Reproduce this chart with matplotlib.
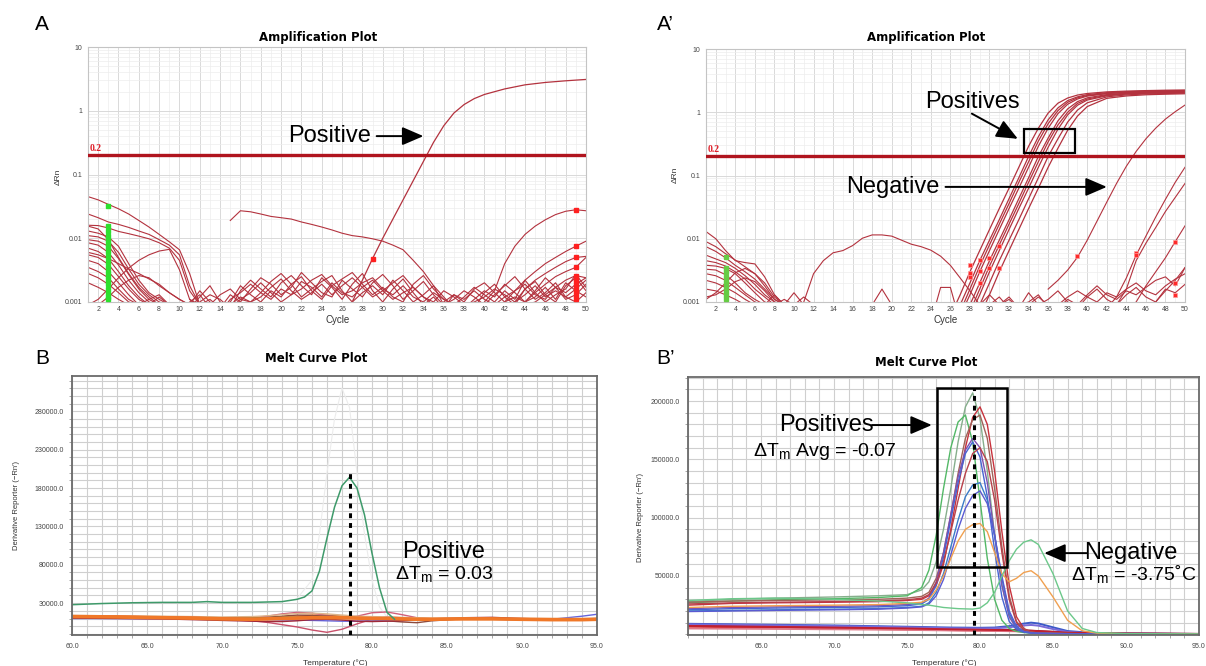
import numpy as np
import matplotlib
matplotlib.use("Agg")
import matplotlib.pyplot as plt
from matplotlib.patches import Rectangle
from matplotlib.ticker import MultipleLocator, FormatStrFormatter, NullFormatter, LogLocator

plt.rcParams['font.family'] = ['Liberation Sans', 'DejaVu Sans']
plt.rcParams['mathtext.fontset'] = 'custom'
plt.rcParams['mathtext.rm'] = 'Liberation Sans'
plt.rcParams['mathtext.it'] = 'Liberation Sans:italic'

# ---------------- panel A: amplification, single positive ----------------
A_THRESHOLD = 0.2
A_EARLY_CYC = list(range(1, 13))
A_EARLY = [
    [0.045, 0.040, 0.034, 0.029, 0.024, 0.019, 0.015, 0.0115, 0.0088, 0.0066, 0.0028, 0.0009],
    [0.024, 0.021, 0.018, 0.0165, 0.0148, 0.013, 0.0115, 0.0095, 0.0078, 0.0055, 0.0018, 0.0009],
    [0.016, 0.0158, 0.0145, 0.0128, 0.0118, 0.0108, 0.0098, 0.0085, 0.007, 0.0045, 0.0015, 0.0009],
    [0.0155, 0.014, 0.0095, 0.005, 0.0028, 0.0017, 0.0012, 0.0009, 0.0009, 0.0009, 0.0009, 0.0009],
    [0.013, 0.012, 0.0105, 0.0075, 0.004, 0.0022, 0.0014, 0.0011, 0.0009, 0.0009, 0.0009, 0.0009],
    [0.011, 0.0105, 0.009, 0.006, 0.0033, 0.0019, 0.0013, 0.001, 0.0009, 0.0009, 0.0009, 0.0009],
    [0.0095, 0.009, 0.0075, 0.0048, 0.0027, 0.0016, 0.0011, 0.0013, 0.0009, 0.0009, 0.0009, 0.0009],
    [0.0085, 0.0078, 0.006, 0.0038, 0.0022, 0.0014, 0.001, 0.0009, 0.0009, 0.0009, 0.0009, 0.0009],
    [0.007, 0.0062, 0.0048, 0.003, 0.0018, 0.0012, 0.0009, 0.0012, 0.0009, 0.0009, 0.0009, 0.0009],
    [0.0055, 0.005, 0.0039, 0.0025, 0.0016, 0.0011, 0.0009, 0.0009, 0.0009, 0.0009, 0.0009, 0.0009],
    [0.0045, 0.004, 0.003, 0.002, 0.0013, 0.0009, 0.0011, 0.0009, 0.0009, 0.0009, 0.0009, 0.0009],
    [0.0035, 0.003, 0.0024, 0.0016, 0.0011, 0.0009, 0.0009, 0.0009, 0.0009, 0.0009, 0.0009, 0.0009],
    [0.0028, 0.0024, 0.0019, 0.0014, 0.001, 0.0009, 0.0009, 0.0009, 0.0009, 0.0009, 0.0009, 0.0009],
    [0.002, 0.0017, 0.0014, 0.0011, 0.0009, 0.0009, 0.0009, 0.0009, 0.0009, 0.0009, 0.0009, 0.0009],
    [0.0009, 0.0011, 0.0016, 0.0024, 0.0034, 0.0045, 0.0055, 0.0063, 0.0067, 0.0032, 0.0011, 0.0009],
    [0.0009, 0.0009, 0.0012, 0.0017, 0.0022, 0.0026, 0.0024, 0.0018, 0.0014, 0.0011, 0.0009, 0.0009],
    [0.006, 0.0055, 0.0048, 0.004, 0.0033, 0.0028, 0.0023, 0.0019, 0.0014, 0.0011, 0.0009, 0.0009],
]
A_NOISE_CYC = list(range(11, 51))
A_NOISE_MILLI = [  # values in units of 0.001 dRn
    [0.8, 1.2, 1.8, 1.0, 0.8, 1.5, 2.2, 1.6, 1.2, 2.0, 2.6, 1.8, 1.3, 2.4, 1.7, 1.1, 1.9, 2.8, 1.5, 1.0,
     1.6, 2.3, 1.4, 0.9, 1.2, 0.8, 1.3, 1.0, 0.8, 1.4, 1.9, 1.2, 0.9, 1.6, 2.1, 1.3, 1.0, 1.8, 2.4, 1.5],
    [0.7, 0.9, 1.1, 0.8, 1.3, 1.0, 1.6, 2.4, 1.9, 1.3, 1.7, 2.9, 2.0, 1.4, 1.2, 2.2, 1.6, 1.2, 2.0, 2.7,
     1.8, 1.1, 1.5, 2.1, 1.3, 0.9, 1.1, 1.5, 1.2, 0.9, 1.3, 1.8, 2.5, 1.6, 1.1, 1.4, 2.0, 1.2, 1.6, 2.2],
    [0.9, 1.5, 1.0, 0.7, 0.9, 1.2, 1.0, 1.4, 2.1, 2.8, 1.9, 1.2, 1.6, 2.1, 2.6, 1.5, 1.0, 1.4, 1.8, 1.3,
     2.2, 1.5, 1.0, 1.3, 1.8, 1.2, 0.8, 1.0, 1.6, 2.0, 1.4, 1.0, 1.2, 1.0, 1.5, 2.4, 1.7, 1.1, 1.3, 1.9],
    [1.1, 0.8, 0.7, 0.9, 1.0, 1.8, 1.3, 1.0, 1.5, 1.2, 1.9, 2.5, 1.5, 1.1, 1.8, 2.3, 2.9, 1.9, 1.3, 1.7,
     1.2, 1.0, 1.9, 2.6, 1.6, 1.1, 0.9, 1.2, 1.7, 1.3, 1.0, 1.5, 1.1, 2.2, 1.4, 1.0, 1.3, 1.6, 2.7, 1.7],
    [0.7, 1.0, 1.3, 1.1, 0.8, 1.1, 1.4, 2.0, 1.4, 1.0, 1.3, 1.6, 2.2, 2.7, 1.8, 1.3, 1.5, 2.0, 2.4, 1.6,
     1.3, 1.8, 1.2, 1.0, 1.4, 1.1, 0.9, 0.8, 1.1, 1.5, 1.2, 1.9, 1.4, 1.0, 1.2, 1.7, 1.1, 2.0, 1.5, 1.2],
    [0.8, 0.7, 0.9, 1.3, 1.6, 1.1, 1.0, 1.2, 1.7, 2.3, 1.5, 1.1, 1.4, 1.9, 1.3, 1.8, 2.4, 1.7, 1.2, 1.5,
     2.0, 2.6, 1.7, 1.2, 1.0, 1.5, 1.2, 0.9, 1.0, 1.2, 1.6, 1.3, 1.0, 1.3, 1.8, 1.2, 1.5, 1.2, 1.0, 1.4],
    [1.0, 1.3, 0.8, 0.7, 1.1, 1.4, 1.9, 1.4, 1.1, 1.6, 1.3, 2.1, 1.7, 1.2, 2.0, 1.4, 1.2, 1.7, 2.2, 1.5,
     1.1, 1.4, 1.7, 1.2, 0.9, 1.0, 1.3, 1.1, 1.5, 1.1, 0.9, 1.2, 1.5, 1.9, 1.3, 1.1, 1.7, 1.4, 1.9, 2.4],
]
A_LONG_CYC = list(range(15, 37))
A_LONG = [0.019, 0.027, 0.026, 0.024, 0.022, 0.021, 0.02, 0.018, 0.0165, 0.015, 0.0135, 0.012, 0.011,
          0.0105, 0.0098, 0.009, 0.0078, 0.0066, 0.0045, 0.003, 0.0018, 0.0009]
A_LATE_CYC = [40, 41, 42, 43, 44, 45, 46, 47, 48, 49, 50]
A_LATE = [
    [0.001, 0.0015, 0.004, 0.0075, 0.0115, 0.0155, 0.0195, 0.0235, 0.0265, 0.028, 0.027],
    [0.0009, 0.0009, 0.001, 0.0015, 0.0022, 0.003, 0.004, 0.005, 0.0062, 0.0075, 0.009],
    [0.0009, 0.0009, 0.0009, 0.001, 0.0016, 0.0022, 0.0028, 0.0035, 0.0043, 0.005, 0.0052],
    [0.0009, 0.0009, 0.0009, 0.0009, 0.001, 0.0014, 0.0019, 0.0025, 0.003, 0.0035, 0.005],
    [0.0009, 0.0009, 0.0009, 0.0009, 0.0009, 0.001, 0.0013, 0.0017, 0.0022, 0.0026, 0.0024],
]
A_POS_CYC = [27, 28, 29, 30, 31, 32, 33, 34, 35, 36, 37, 38, 39, 40, 42, 44, 46, 48, 50]
A_POS = [0.001, 0.0022, 0.0048, 0.01, 0.02, 0.04, 0.08, 0.16, 0.32, 0.58, 0.92, 1.25, 1.55, 1.8,
         2.2, 2.55, 2.78, 2.95, 3.1]
A_GREEN_Y = [0.0011, 0.0012, 0.0014, 0.0016, 0.0019, 0.0022, 0.0026, 0.003, 0.0036, 0.0043, 0.005,
             0.006, 0.007, 0.0082, 0.0095, 0.011, 0.013, 0.0155, 0.032]
A_RED_X = [49] * 11 + [29]
A_RED_Y = [0.0011, 0.0013, 0.0015, 0.0017, 0.002, 0.0023, 0.0026, 0.0035, 0.005, 0.0075, 0.028, 0.0048]

# ---------------- panel A': amplification, positives + negative ----------------
A2_EARLY_CYC = list(range(1, 10))
A2_EARLY = [
    [0.013, 0.010, 0.0065, 0.0045, 0.0042, 0.004, 0.0025, 0.0013, 0.0009],
    [0.009, 0.0075, 0.0058, 0.0046, 0.0036, 0.0028, 0.002, 0.0012, 0.0009],
    [0.0075, 0.0063, 0.005, 0.0038, 0.003, 0.0023, 0.0016, 0.0011, 0.0009],
    [0.0055, 0.0048, 0.0042, 0.0034, 0.0026, 0.0019, 0.0013, 0.001, 0.0009],
    [0.0045, 0.0042, 0.0037, 0.003, 0.0023, 0.0016, 0.0012, 0.0009, 0.0009],
    [0.0038, 0.0037, 0.0034, 0.0028, 0.002, 0.0014, 0.001, 0.0009, 0.0009],
    [0.0033, 0.0032, 0.0027, 0.002, 0.0014, 0.0011, 0.0009, 0.0009, 0.0009],
    [0.0028, 0.0026, 0.0022, 0.0017, 0.0013, 0.001, 0.0009, 0.0009, 0.0009],
    [0.0022, 0.002, 0.0017, 0.0014, 0.0011, 0.0009, 0.0009, 0.0009, 0.0009],
    [0.0016, 0.0015, 0.0013, 0.0011, 0.0009, 0.0009, 0.0009, 0.0009, 0.0009],
    [0.0011, 0.0014, 0.002, 0.0029, 0.0034, 0.0028, 0.0018, 0.0011, 0.0009],
    [0.0012, 0.0013, 0.0016, 0.0021, 0.0024, 0.0021, 0.0015, 0.001, 0.0009],
]
A2_HUMP_CYC = list(range(11, 30))
A2_HUMP = [0.001, 0.0028, 0.0045, 0.006, 0.0065, 0.0078, 0.0102, 0.0115, 0.0115, 0.011, 0.0095,
           0.0082, 0.0075, 0.0066, 0.0053, 0.0038, 0.0024, 0.0015, 0.0009]
A2_SPIKES = [
    ([7, 8, 9, 10, 11], [0.0009, 0.0013, 0.0009, 0.0014, 0.0009]),
    ([8, 9, 10, 11, 12], [0.0009, 0.0011, 0.0009, 0.0012, 0.0009]),
    ([18, 19, 20], [0.0009, 0.0016, 0.0009]),
    ([24.5, 25, 26, 26.5], [0.0009, 0.0017, 0.0017, 0.0009]),
]
A2_NOISE_CYC = list(range(28, 51))
A2_NOISE_MILLI = [  # values in units of 0.001 dRn
    [0.8, 0.9, 1.3, 0.9, 1.2, 0.8, 1.4, 0.9, 1.1, 1.5, 1.0, 0.8, 1.2, 1.6, 1.1, 0.9, 1.3, 1.7, 1.2, 1.0, 1.6, 1.4, 1.9],
    [0.8, 0.8, 0.9, 1.2, 0.8, 0.9, 1.0, 1.3, 0.8, 0.9, 1.2, 1.5, 1.2, 1.0, 1.4, 1.2, 1.6, 2.0, 1.5, 1.3, 1.8, 2.3, 2.8],
    [0.8, 0.8, 0.8, 0.9, 1.1, 0.8, 0.9, 1.2, 0.9, 0.8, 1.1, 0.9, 1.3, 1.8, 1.3, 1.1, 1.5, 1.3, 1.7, 2.2, 2.5, 1.8, 3.5],
]
A2_POS_CYC = [26, 27, 28, 29, 30, 31, 32, 33, 34, 35, 36, 37, 38, 39, 40, 42, 44, 46, 48, 50]
A2_POS = [
    [0.0006, 0.0013, 0.003, 0.0065, 0.014, 0.03, 0.063, 0.135, 0.29, 0.56, 0.97, 1.39, 1.68, 1.87, 1.98, 2.10, 2.16, 2.20, 2.23, 2.25],
    [0.0004, 0.0009, 0.002, 0.0045, 0.0095, 0.02, 0.043, 0.092, 0.2, 0.41, 0.76, 1.17, 1.53, 1.75, 1.9, 2.04, 2.11, 2.15, 2.18, 2.2],
    [0.0003, 0.0007, 0.0016, 0.0037, 0.008, 0.017, 0.036, 0.078, 0.165, 0.35, 0.66, 1.06, 1.44, 1.69, 1.84, 1.99, 2.07, 2.12, 2.15, 2.17],
    [0.0003, 0.0006, 0.0013, 0.003, 0.0065, 0.014, 0.03, 0.063, 0.135, 0.29, 0.56, 0.95, 1.34, 1.62, 1.8, 1.97, 2.05, 2.1, 2.13, 2.15],
    [0.0002, 0.0004, 0.0009, 0.002, 0.0045, 0.0095, 0.02, 0.043, 0.092, 0.2, 0.39, 0.73, 1.13, 1.47, 1.69, 1.9, 2.0, 2.05, 2.08, 2.1],
    [0.0001, 0.0003, 0.0007, 0.0016, 0.0037, 0.008, 0.017, 0.036, 0.078, 0.165, 0.34, 0.63, 1.0, 1.38, 1.62, 1.86, 1.97, 2.02, 2.05, 2.08],
    [0.0001, 0.0003, 0.0006, 0.0013, 0.003, 0.0065, 0.014, 0.03, 0.063, 0.135, 0.28, 0.54, 0.91, 1.29, 1.56, 1.82, 1.94, 2.0, 2.03, 2.06],
    [0.0001, 0.0002, 0.0004, 0.0009, 0.002, 0.0045, 0.0095, 0.02, 0.043, 0.092, 0.2, 0.38, 0.7, 1.08, 1.41, 1.75, 1.88, 1.95, 1.98, 2.01],
    [0.0001, 0.0001, 0.0003, 0.0006, 0.0013, 0.003, 0.0065, 0.014, 0.03, 0.063, 0.135, 0.27, 0.52, 0.87, 1.23, 1.66, 1.81, 1.89, 1.93, 1.96],
]
A2_NEG_CYC = list(range(36, 51))
A2_NEG = [0.0016, 0.0022, 0.0032, 0.0051, 0.0095, 0.019, 0.038, 0.075, 0.14, 0.24, 0.38, 0.56, 0.78, 1.02, 1.3]
A2_LATE_CYC = [42, 43, 44, 45, 46, 47, 48, 49, 50]
A2_LATE = [
    [0.0008, 0.0012, 0.0024, 0.0055, 0.011, 0.022, 0.042, 0.078, 0.135],
    [0.0008, 0.0009, 0.0016, 0.0045, 0.0085, 0.015, 0.027, 0.045, 0.075],
    [0.0008, 0.0008, 0.0008, 0.001, 0.0018, 0.003, 0.005, 0.009, 0.016],
    [0.0008, 0.0008, 0.0008, 0.0008, 0.0008, 0.001, 0.0015, 0.0022, 0.0035],
]
A2_GREEN_Y = [0.0011, 0.0013, 0.0015, 0.0018, 0.0021, 0.0025, 0.003, 0.0034, 0.0052]
A2_RED_X = [28, 28, 28, 29, 29, 29, 30, 30, 31, 31, 39, 45, 45, 49, 49, 49]
A2_RED_Y = [0.0038, 0.0029, 0.0025, 0.0046, 0.0031, 0.002, 0.005, 0.0034, 0.0078, 0.0035,
            0.0053, 0.006, 0.0055, 0.0089, 0.002, 0.0013]

# ---------------- panel B: melt curve, single positive ----------------
B_TM = 78.5
B_POS_T = [60, 62, 64, 66, 68, 69, 70, 72, 74, 75, 75.5, 76, 76.5, 77, 77.5, 78, 78.5, 79, 79.5, 80, 80.5, 81, 81.5]
B_POS = [28000, 29500, 30500, 31000, 31000, 32000, 31000, 31000, 32000, 35000, 38000, 46000, 72000,
         115000, 155000, 183000, 194000, 180000, 145000, 95000, 50000, 18000, 9000]
B_GHOST_T = [75, 76, 76.5, 77, 77.5, 78, 78.5, 79, 79.5, 80, 80.5, 81]
B_GHOST = [36000, 60000, 120000, 200000, 270000, 310000, 285000, 200000, 120000, 60000, 25000, 12000]
B_FLAT_T = [60, 63, 66, 68, 70, 72, 73, 74, 75, 76, 77, 78, 79, 80, 81, 82, 83, 84, 86, 88, 90, 92, 93, 94, 95]
B_FLAT = [
    [12500, 12000, 11000, 10500, 9500, 9000, 9500, 10000, 10500, 11000, 11000, 11000, 10500, 10000, 10000, 9500, 9000, 9000, 9500, 9500, 9000, 8500, 8500, 8500, 9000],
    [13000, 12500, 11500, 11000, 9000, 10000, 11500, 12500, 13500, 14500, 14500, 13000, 12000, 11500, 10500, 10000, 9000, 8500, 9500, 10000, 9500, 9000, 8500, 8500, 8500],
    [11500, 11000, 10500, 10000, 9000, 7000, 5000, 2000, -1000, -5000, -8000, -4000, 3000, 9000, 12000, 11000, 9500, 9000, 9000, 9000, 8500, 8500, 8500, 9000, 9000],
    [11000, 10500, 10000, 9500, 9500, 11000, 13000, 16000, 18000, 17000, 14000, 11000, 13000, 17500, 18500, 15000, 11000, 9500, 9000, 9000, 9000, 8500, 8500, 9000, 9000],
    [11500, 11000, 10500, 10000, 10000, 10500, 11500, 13000, 14500, 14000, 13000, 12500, 11000, 9000, 7000, 5500, 4500, 7000, 9500, 10500, 9500, 9000, 9000, 9500, 10000],
    [10000, 10000, 9500, 9500, 9000, 9000, 8500, 8000, 8000, 7500, 7000, 6500, 6500, 7000, 7500, 8000, 8500, 9000, 9500, 9000, 8500, 9000, 11000, 13000, 15500],
    [10500, 10000, 9500, 8500, 7500, 6500, 6000, 6000, 7000, 8500, 9000, 8000, 6500, 6000, 6500, 7000, 8000, 9500, 11000, 11500, 10000, 9000, 8500, 8500, 9000],
    [12500, 12000, 11500, 11500, 11000, 11000, 11000, 11500, 12000, 12500, 12500, 12500, 12000, 11500, 11000, 10500, 10000, 9500, 9500, 9000, 9000, 9000, 9000, 9000, 9000],
    [14000, 13500, 13000, 12500, 12000, 12500, 13500, 15000, 16500, 17000, 16000, 14500, 13000, 12500, 12000, 11500, 11000, 10500, 10500, 10000, 10000, 10000, 10000, 10000, 10000],
    [13500, 13000, 12000, 11500, 10500, 10000, 10000, 10500, 11500, 12500, 12000, 11500, 11000, 10500, 10500, 10000, 9500, 9000, 9000, 9500, 9000, 8500, 8500, 8500, 8500],
]
B_FLAT_COLORS = ['#f07828', '#f29040', '#c8506a', '#d0607a', '#8c4a3c', '#6464dc',
                 '#a02838', '#7a9448', '#dcb48c', '#e0502c']

# ---------------- panel B': melt curves, positives + negative ----------------
B2_TM = 79.6
B2_T = [60, 63, 66, 70, 73, 75, 76, 76.5, 77, 77.5, 78, 78.5, 79, 79.5, 80, 80.5, 81, 81.5, 82,
        82.5, 83, 83.5, 84, 85, 86, 87, 88, 90, 95]
B2_CURVES = [
    [28000, 30000, 31000, 32000, 33000, 34000, 38000, 45000, 62000, 90000, 125000, 165000, 195000, 207000, 185000, 140000, 85000, 42000, 16000, 6000, 2500, 1500, 1000, 800, 600, 500, 400, 300, 200],
    [27000, 28500, 29500, 30500, 31500, 33000, 40000, 55000, 85000, 125000, 160000, 182000, 188000, 165000, 115000, 65000, 30000, 12000, 5000, 2500, 1500, 1000, 800, 600, 500, 400, 300, 300, 200],
    [25000, 26500, 27000, 27500, 28000, 29000, 30000, 33000, 42000, 60000, 90000, 125000, 160000, 186000, 195000, 180000, 140000, 88000, 42000, 15000, 5000, 2000, 1200, 800, 600, 500, 400, 300, 200],
    [27500, 28500, 29000, 29500, 30000, 31000, 32500, 36000, 48000, 70000, 102000, 138000, 168000, 184000, 188000, 168000, 125000, 75000, 33000, 11000, 4000, 1800, 1100, 800, 600, 500, 400, 300, 200],
    [22000, 23000, 23500, 24000, 24500, 25500, 27000, 31000, 45000, 70000, 103000, 135000, 158000, 168000, 160000, 130000, 85000, 42000, 15000, 5000, 2000, 1200, 900, 700, 500, 400, 300, 300, 200],
    [21000, 22000, 22500, 23000, 23500, 24500, 26000, 30000, 42000, 66000, 98000, 130000, 155000, 165000, 152000, 118000, 72000, 32000, 11000, 4000, 1800, 1100, 800, 600, 500, 400, 300, 300, 200],
    [26000, 27000, 27500, 28000, 28500, 29500, 31000, 34000, 44000, 62000, 88000, 115000, 138000, 155000, 160000, 148000, 115000, 70000, 30000, 10000, 3500, 1600, 1000, 700, 500, 400, 300, 300, 200],
    [20000, 20500, 21000, 21500, 22000, 23000, 24000, 27000, 36000, 52000, 75000, 98000, 118000, 128000, 130000, 115000, 85000, 48000, 18000, 6000, 2200, 1200, 800, 600, 500, 400, 300, 300, 200],
    [19500, 20000, 20500, 21000, 21500, 22500, 23500, 26000, 33000, 47000, 68000, 90000, 108000, 119000, 123000, 112000, 85000, 50000, 20000, 7000, 2500, 1300, 900, 600, 500, 400, 300, 300, 200],
    [23000, 24000, 24500, 25000, 25500, 26500, 27500, 30000, 38000, 50000, 65000, 80000, 90000, 94000, 95000, 88000, 70000, 52000, 45000, 48000, 53000, 54500, 50000, 32000, 12000, 3000, 1000, 500, 300],
    [29000, 30500, 31000, 30000, 28500, 27000, 25500, 25000, 24000, 23000, 22500, 22000, 21800, 21600, 22500, 27000, 36000, 50000, 63000, 73000, 79000, 81000, 77000, 52000, 20000, 5000, 1500, 600, 300],
]
B2_COLORS = ['#86ae8c', '#52b866', '#c8323c', '#a0645a', '#8050b0', '#4664d2',
             '#b8404a', '#3a7cc8', '#5a5ad2', '#f0a050', '#6cc88a']
B2_LOW_T = [60, 65, 70, 75, 78, 80, 81, 82, 83, 83.5, 84, 85, 86, 88, 90, 95]
B2_LOW = [
    [6500, 5800, 5000, 4200, 3600, 3300, 3100, 3000, 2600, 2400, 2100, 1600, 1200, 800, 600, 300],
    [8000, 7200, 6400, 5400, 4800, 4300, 4000, 3800, 3400, 3100, 2800, 2200, 1600, 1000, 700, 300],
    [9000, 8300, 7600, 6500, 5800, 5600, 5800, 7000, 9200, 10000, 9300, 6000, 2800, 900, 600, 300],
    [8500, 7800, 7000, 6000, 5200, 5000, 5100, 6000, 7600, 8000, 7400, 4500, 2000, 700, 500, 200],
    [5000, 4700, 4300, 3800, 3300, 3000, 2900, 2700, 2400, 2200, 2000, 1500, 1000, 600, 400, 200],
    [7200, 6500, 5800, 5000, 4300, 3900, 3700, 3500, 3200, 3000, 2700, 2000, 1400, 900, 600, 300],
]
B2_LOW_COLORS = ['#d42828', '#8c1c28', '#3c5ac8', '#7a6ad8', '#e07888', '#c02030']

W, H = 1206, 666
fig = plt.figure(figsize=(W / 100, H / 100), dpi=100)
RED = '#b3323e'
ARROW = dict(arrowstyle='-|>,head_length=0.65,head_width=0.28', color='k', lw=1.4,
             mutation_scale=20, shrinkA=0, shrinkB=0)


def box(l, t, r, b):
    return [l / W, 1 - b / H, (r - l) / W, (b - t) / H]


def put(x, y, s, **kw):
    fig.text(x / W, 1 - y / H, s, **kw)


def amp_axes(rect):
    ax = fig.add_axes(rect)
    ax.set_yscale('log')
    ax.set_xlim(1, 50)
    ax.set_ylim(0.001, 10)
    ax.set_xticks(range(2, 51, 2))
    ax.xaxis.set_minor_locator(MultipleLocator(1))
    ax.set_yticks([0.001, 0.01, 0.1, 1, 10])
    ax.set_yticklabels(['0.001', '0.01', '0.1', '1', '10'])
    ax.yaxis.set_minor_locator(LogLocator(base=10, subs=np.arange(2, 10) * 1.0, numticks=20))
    ax.yaxis.set_minor_formatter(NullFormatter())
    ax.grid(True, which='major', color='#d9d9d9', lw=0.7)
    ax.grid(True, which='minor', color='#ededed', lw=0.5)
    ax.tick_params(which='both', length=0, labelsize=5, colors='#444444', pad=3)
    ax.tick_params(axis='y', pad=4)
    for s in ax.spines.values():
        s.set_color('#c4c4c4')
        s.set_linewidth(0.8)
    ax.set_axisbelow(True)
    ax.axhline(A_THRESHOLD, color='#b0141e', lw=2.4, zorder=3)
    ax.text(1.15, A_THRESHOLD * 1.08, '0.2', color='#e0202a', fontsize=7, fontweight='bold',
            family='Liberation Serif', va='bottom', ha='left')
    return ax


def melt_axes(rect, ylim, yticks, xticks):
    ax = fig.add_axes(rect)
    ax.set_xlim(60, 95)
    ax.set_ylim(*ylim)
    ax.set_xticks(xticks)
    ax.set_yticks(yticks)
    ax.xaxis.set_major_formatter(FormatStrFormatter('%.1f'))
    ax.yaxis.set_major_formatter(FormatStrFormatter('%.1f'))
    ax.xaxis.set_minor_locator(MultipleLocator(1))
    ax.yaxis.set_minor_locator(MultipleLocator(10000))
    ax.grid(True, which='both', color='#cfcfcf', lw=0.8)
    ax.tick_params(which='major', length=0, labelsize=5, colors='#444444', pad=6)
    ax.tick_params(which='minor', length=2, color='#999999', direction='out')
    for s in ax.spines.values():
        s.set_color('#6a6a6a')
        s.set_linewidth(1.3)
    ax.set_axisbelow(True)
    return ax


# ---- A ----
axA = amp_axes(box(88, 47, 586, 302))
for ys in A_EARLY:
    axA.plot(A_EARLY_CYC, ys, color=RED, lw=0.8)
for ys in A_NOISE_MILLI:
    axA.plot(A_NOISE_CYC, np.array(ys) * 1e-3, color=RED, lw=0.8)
for ys in A_LATE:
    axA.plot(A_LATE_CYC, ys, color=RED, lw=0.8)
axA.plot(A_LONG_CYC, A_LONG, color=RED, lw=0.8)
axA.plot(A_POS_CYC, A_POS, color=RED, lw=0.9)
axA.plot([3] * len(A_GREEN_Y), A_GREEN_Y, 's', ms=3.2, color='#2ee02e', mec='#2ee02e', zorder=4)
axA.plot(A_RED_X, A_RED_Y, 's', ms=3.0, color='#ff2020', mec='#ff2020', zorder=4)
axA.text(28.8, 0.40, 'Positive', ha='right', va='center', fontsize=17)
axA.annotate('', xy=(34.0, 0.40), xytext=(29.4, 0.40), arrowprops=ARROW)

# ---- A' ----
axA2 = amp_axes(box(706, 49, 1185, 302))
for ys in A2_EARLY:
    axA2.plot(A2_EARLY_CYC, ys, color=RED, lw=0.8)
axA2.plot(A2_HUMP_CYC, A2_HUMP, color=RED, lw=0.8)
for xs, ys in A2_SPIKES:
    axA2.plot(xs, ys, color=RED, lw=0.8)
for ys in A2_NOISE_MILLI:
    axA2.plot(A2_NOISE_CYC, np.array(ys) * 1e-3, color=RED, lw=0.8)
for ys in A2_POS:
    axA2.plot(A2_POS_CYC, ys, color=RED, lw=0.9)
axA2.plot(A2_NEG_CYC, A2_NEG, color=RED, lw=0.8)
for ys in A2_LATE:
    axA2.plot(A2_LATE_CYC, ys, color=RED, lw=0.8)
axA2.plot([3] * len(A2_GREEN_Y), A2_GREEN_Y, 's', ms=3.2, color='#66cc44', mec='#66cc44', zorder=4)
axA2.plot(A2_RED_X, A2_RED_Y, 's', ms=3.0, color='#ff2a2a', mec='#ff9a9a', mew=0.5, zorder=4)
axA2.add_patch(Rectangle((33.5, 0.227), 5.2, 0.54 - 0.227, fill=False, lw=1.6, ec='k', zorder=5))
axA2.text(28.3, 1.45, 'Positives', ha='center', va='center', fontsize=17)
axA2.annotate('', xy=(32.9, 0.38), xytext=(28.2, 0.95), arrowprops=ARROW)
axA2.text(24.9, 0.066, 'Negative', ha='right', va='center', fontsize=17)
axA2.annotate('', xy=(42.0, 0.066), xytext=(25.5, 0.066), arrowprops=ARROW)

# ---- B ----
axB = melt_axes(box(72, 376, 597, 635), (-11500, 326000),
                [30000, 80000, 130000, 180000, 230000, 280000], range(60, 96, 5))
axB.plot(B_GHOST_T, B_GHOST, color='#ececec', lw=0.8)
for ys, c in zip(B_FLAT, B_FLAT_COLORS):
    axB.plot(B_FLAT_T, ys, color=c, lw=1.0)
axB.plot(B_FLAT_T, B_FLAT[0], color=B_FLAT_COLORS[0], lw=2.6)
axB.plot(B_POS_T, B_POS, color='#3e9a6a', lw=1.1)
axB.vlines(B_TM, -11500, 203000, colors='k', linestyles=(0, (1.6, 1.6)), lw=2.2, zorder=5)
axB.text(84.8, 97000, 'Positive', ha='center', va='center', fontsize=17)
axB.text(84.8, 68000, 'ΔT$_{\\mathrm{m}}$ = 0.03', ha='center', va='center', fontsize=14)

# ---- B' ----
axB2 = melt_axes(box(688, 377, 1199, 635), (-600, 220600),
                 [50000, 100000, 150000, 200000], range(65, 96, 5))
for ys, c in zip(B2_LOW, B2_LOW_COLORS):
    axB2.plot(B2_LOW_T, ys, color=c, lw=1.4)
for ys, c in zip(B2_CURVES, B2_COLORS):
    axB2.plot(B2_T, ys, color=c, lw=1.0)
axB2.vlines(B2_TM, -600, 211000, colors='k', linestyles=(0, (1.6, 1.6)), lw=2.2, zorder=5)
axB2.add_patch(Rectangle((77.05, 57700), 4.8, 211000 - 57700, fill=False, lw=1.8, ec='k', zorder=5))
axB2.text(72.7, 179400, 'Positives', ha='right', va='center', fontsize=17)
axB2.annotate('', xy=(76.7, 179400), xytext=(72.6, 179400), arrowprops=ARROW)
axB2.text(69.4, 157000, 'ΔT$_{\\mathrm{m}}$ Avg = -0.07', ha='center', va='center', fontsize=14)
axB2.text(87.1, 69600, 'Negative', ha='left', va='center', fontsize=17)
axB2.annotate('', xy=(84.4, 69600), xytext=(87.3, 69600), arrowprops=ARROW)
axB2.text(90.5, 52000, 'ΔT$_{\\mathrm{m}}$ = -3.75˚C', ha='center', va='center', fontsize=14)

# ---- figure texts ----
for x, y, s in [(35, 25, 'A'), (657, 25, 'A\u2019'), (35, 359, 'B'), (656, 358, 'B\u2019')]:
    put(x, y, s, fontsize=15, ha='left', va='center')
for x, y, s in [(318, 37, 'Amplification Plot'), (926, 37, 'Amplification Plot'),
                (316, 358, 'Melt Curve Plot'), (926, 362, 'Melt Curve Plot')]:
    put(x, y, s, fontsize=8.5, fontweight='bold', family='DejaVu Sans', ha='center', va='center')
put(338, 320, 'Cycle', fontsize=7, ha='center', va='center', color='#333333')
put(946, 320, 'Cycle', fontsize=7, ha='center', va='center', color='#333333')
put(58, 177, 'ΔRn', fontsize=6, rotation=90, ha='center', va='center', color='#333333')
put(675, 175, 'ΔRn', fontsize=6, rotation=90, ha='center', va='center', color='#333333')
put(335, 663, 'Temperature (°C)', fontsize=6, ha='center', va='center', color='#333333')
put(944, 663, 'Temperature (°C)', fontsize=6, ha='center', va='center', color='#333333')
put(17, 505, 'Derivative Reporter (\u2212Rn\u2032)', fontsize=5.5, rotation=90, ha='center', va='center', color='#333333')
put(640, 517, 'Derivative Reporter (\u2212Rn\u2032)', fontsize=5.5, rotation=90, ha='center', va='center', color='#333333')

fig.savefig('out.png', dpi=100)
